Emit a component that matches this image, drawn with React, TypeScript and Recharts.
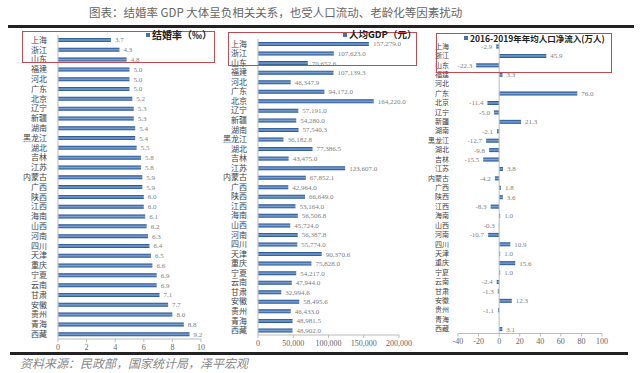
import React from "react";
import { Bar, BarChart, LabelList, ReferenceLine, XAxis, YAxis } from "recharts";

const provinces = [
  "上海", "浙江", "山东", "福建", "河北", "广东", "北京", "辽宁", "新疆", "湖南",
  "黑龙江", "湖北", "吉林", "江苏", "内蒙古", "广西", "陕西", "江西", "海南", "山西",
  "河南", "四川", "天津", "重庆", "宁夏", "云南", "甘肃", "安徽", "贵州", "青海", "西藏",
];

const marriageRate = [
  3.7, 4.3, 4.8, 5.0, 5.0, 5.0, 5.2, 5.3, 5.3, 5.4,
  5.4, 5.5, 5.8, 5.8, 5.9, 5.9, 6.0, 6.0, 6.1, 6.2,
  6.3, 6.4, 6.5, 6.6, 6.9, 6.9, 7.1, 7.7, 8.0, 8.8, 9.2,
];

const gdpPerCapita = [
  157279.0, 107623.0, 70652.6, 107139.3, 46347.9, 94172.0, 164220.0, 57191.0, 54280.0, 57540.3,
  36182.8, 77386.5, 43475.0, 123607.0, 67852.1, 42964.0, 66649.0, 53164.0, 56506.8, 45724.0,
  56387.8, 55774.0, 90370.6, 75828.0, 54217.0, 47944.0, 32994.6, 58495.6, 46433.0, 48981.5, 48902.0,
];

const netInflow = [
  -2.9, 45.9, -22.3, 3.3, 0.0, 76.0, -11.4, -5.0, 21.3, -2.1,
  -12.7, -9.8, -15.5, 3.8, -4.2, 1.8, 3.6, -8.3, 1.0, -0.3,
  -10.7, 10.9, 1.0, 15.6, 1.0, -2.4, -1.3, 12.3, -1.1, 0.0, 3.1,
];

const rateTicks = [0, 2, 4, 6, 8, 10];
const gdpTicks = [0, 50000, 100000, 150000, 200000];
const inflowTicks = [-40, -20, 0, 20, 40, 60, 80, 100];

const data = provinces.map((p, i) => ({
  province: p,
  rate: marriageRate[i],
  gdp: gdpPerCapita[i],
  inflow: netInflow[i],
}));

const CJK = '"Noto Sans CJK SC", sans-serif';
const NUM = '"Liberation Serif", serif';

const fmt1 = (v: number) => v.toFixed(1);
const fmtGdp = (v: number) =>
  v.toLocaleString("en-US", { minimumFractionDigits: 1, maximumFractionDigits: 1 });

const makeLabel = (fmt: (v: number) => string) => (props: any) => {
  const v = Number(props.value);
  const x = Number(props.x);
  const w = Number(props.width);
  const y = Number(props.y) + Number(props.height) / 2;
  const neg = v < 0;
  const end = neg ? Math.min(x, x + w) : Math.max(x, x + w);
  return (
    <text
      x={neg ? end - 4 : end + 4}
      y={y}
      dy="0.35em"
      textAnchor={neg ? "end" : "start"}
      fontSize={7}
      fill="#808080"
      fontFamily={NUM}
    >
      {fmt(v)}
    </text>
  );
};

const Grad = ({ id }: { id: string }) => (
  <defs>
    <linearGradient id={id} x1="0" y1="0" x2="0" y2="1">
      <stop offset="0%" stopColor="#1d4b8a" />
      <stop offset="50%" stopColor="#7ca3d4" />
      <stop offset="100%" stopColor="#1d4b8a" />
    </linearGradient>
  </defs>
);

const catTick = { fontSize: 8, fill: "#444", fontFamily: CJK };
const catTickSmall = { fontSize: 7, fill: "#444", fontFamily: CJK };
const numTick = { fontSize: 8, fill: "#666", fontFamily: NUM };

function LegendBox({ left, top, text, size }: { left: number; top: number; text: string; size: number }) {
  return (
    <div
      style={{
        position: "absolute",
        left,
        top,
        fontSize: size,
        fontWeight: "bold",
        color: "#222",
        fontFamily: CJK,
        whiteSpace: "nowrap",
        lineHeight: 1,
        display: "flex",
        alignItems: "center",
      }}
    >
      <span style={{ display: "inline-block", width: 4, height: 4, background: "#4a72aa", marginRight: 2 }} />
      {text}
    </div>
  );
}

function RedBox({ left, top, width, height }: { left: number; top: number; width: number; height: number }) {
  return (
    <div
      style={{
        position: "absolute",
        left,
        top,
        width,
        height,
        border: "1.5px solid #c24a52",
        boxSizing: "border-box",
      }}
    />
  );
}

export default function App() {
  return (
    <div style={{ position: "absolute", left: 0, top: 0, width: 641, height: 373, background: "#fff", overflow: "hidden" }}>
      <div
        style={{
          position: "absolute",
          left: 89,
          top: 7,
          fontSize: 11.5,
          color: "#666",
          fontFamily: CJK,
          whiteSpace: "nowrap",
          lineHeight: 1,
        }}
      >
        图表：结婚率 GDP 大体呈负相关关系，也受人口流动、老龄化等因素扰动
      </div>
      <div style={{ position: "absolute", left: 8, top: 25, width: 626, height: 3, background: "#222" }} />

      <div style={{ position: "absolute", left: 0, top: 0 }}>
        <BarChart width={215} height={360} data={data} layout="vertical" margin={{ top: 35, right: 14, bottom: 0, left: 0 }}>
          <Grad id="g1" />
          <XAxis type="number" domain={[0, 10]} ticks={rateTicks} height={21} tickSize={3} tick={numTick} stroke="#bbb" />
          <YAxis type="category" dataKey="province" width={58} interval={0} tickLine={false} tickMargin={5} tick={catTick} stroke="#bbb" />
          <Bar dataKey="rate" barSize={4} fill="url(#g1)" isAnimationActive={false}>
            <LabelList dataKey="rate" content={makeLabel(fmt1)} />
          </Bar>
        </BarChart>
      </div>

      <div style={{ position: "absolute", left: 215, top: 0 }}>
        <BarChart width={205} height={360} data={data} layout="vertical" margin={{ top: 39, right: 21, bottom: 0, left: 0 }}>
          <Grad id="g2" />
          <XAxis
            type="number"
            domain={[0, 200000]}
            ticks={gdpTicks}
            height={25}
            tickSize={3}
            tick={numTick}
            stroke="#bbb"
            tickFormatter={(v: number) => v.toLocaleString("en-US")}
          />
          <YAxis type="category" dataKey="province" width={43} interval={0} tickLine={false} tickMargin={5} tick={catTick} stroke="#bbb" />
          <Bar dataKey="gdp" barSize={4} fill="url(#g2)" isAnimationActive={false}>
            <LabelList dataKey="gdp" content={makeLabel(fmtGdp)} />
          </Bar>
        </BarChart>
      </div>

      <div style={{ position: "absolute", left: 425, top: 0 }}>
        <BarChart width={190} height={360} data={data} layout="vertical" margin={{ top: 41.5, right: 13, bottom: 0, left: 0 }}>
          <Grad id="g3" />
          <XAxis type="number" domain={[-40, 100]} ticks={inflowTicks} height={26.5} tickSize={3} tick={numTick} stroke="#bbb" />
          <YAxis type="category" dataKey="province" width={33} interval={0} tickLine={false} axisLine={false} tickMargin={3} tick={catTickSmall} />
          <ReferenceLine x={0} stroke="#bbb" />
          <Bar dataKey="inflow" barSize={4} fill="url(#g3)" isAnimationActive={false}>
            <LabelList dataKey="inflow" content={makeLabel(fmt1)} />
          </Bar>
        </BarChart>
      </div>

      <RedBox left={22} top={31} width={193} height={32} />
      <RedBox left={228} top={32} width={189} height={34} />
      <RedBox left={436} top={33} width={176} height={40} />

      <LegendBox left={146} top={30} text="结婚率（‰）" size={10} />
      <LegendBox left={343} top={30} text="人均GDP（元）" size={9.5} />
      <LegendBox left={464} top={34} text="2016-2019年年均人口净流入(万人)" size={8.5} />

      <div style={{ position: "absolute", left: 10, top: 352, width: 618, height: 3, background: "#222" }} />
      <div
        style={{
          position: "absolute",
          left: 20,
          top: 357,
          fontSize: 12,
          fontStyle: "italic",
          color: "#888",
          fontFamily: CJK,
          whiteSpace: "nowrap",
          lineHeight: 1,
        }}
      >
        资料来源：民政部，国家统计局，泽平宏观
      </div>
    </div>
  );
}
